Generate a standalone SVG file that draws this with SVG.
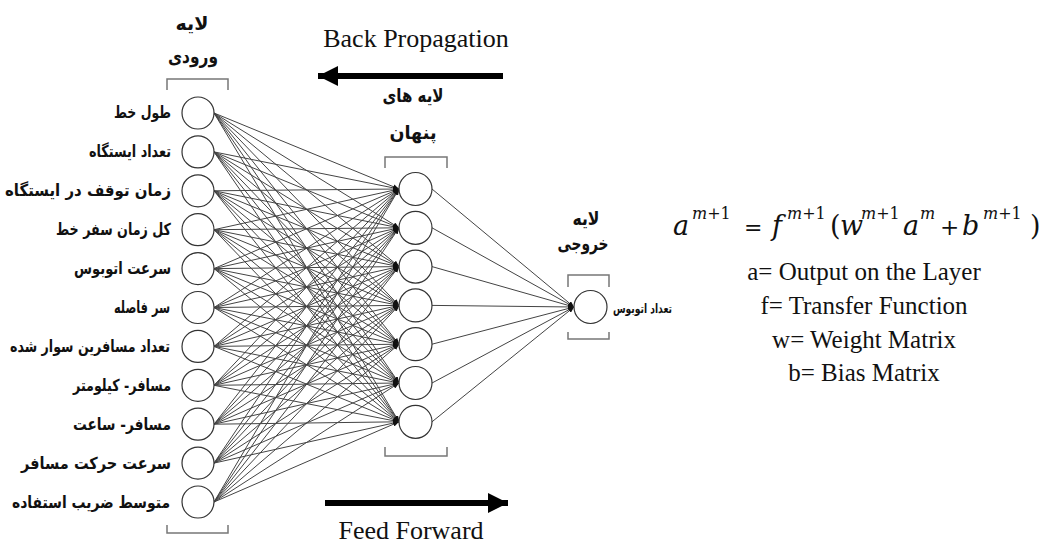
<svg xmlns="http://www.w3.org/2000/svg" width="1054" height="545" viewBox="0 0 1054 545">
<style>
.node circle{fill:#fff;stroke:#333;stroke-width:1.2}
.lbl{font-family:"DejaVu Sans",sans-serif;font-weight:bold;font-size:16.5px;fill:#111;text-anchor:end}
.ttl{font-family:"DejaVu Sans",sans-serif;font-weight:bold;font-size:19px;fill:#111;text-anchor:middle}
.br{fill:none;stroke:#777;stroke-width:1.5}
.conn line{stroke:#444;stroke-width:1;marker-end:url(#ah)}
.en{font-family:"Liberation Serif",serif;font-size:25px;fill:#111;text-anchor:middle}
.eq{font-family:"DejaVu Serif",serif;fill:#111}
.sup{font-size:16px}
</style>
<defs>
<marker id="ah" markerUnits="userSpaceOnUse" markerWidth="7" markerHeight="5" refX="6" refY="2.5" orient="auto">
<path d="M0,0 L6,2.5 L0,5 Z" fill="#111"/>
</marker>
<marker id="big" markerUnits="userSpaceOnUse" markerWidth="22" markerHeight="22" refX="20" refY="10" orient="auto">
<path d="M0,0 L20,10 L0,20 Z" fill="#000"/>
</marker>
</defs>
<rect width="1054" height="545" fill="#fff"/>

<g id="connectors" class="conn">
<line x1="214" y1="113" x2="399" y2="189"/><line x1="214" y1="113" x2="399" y2="227.8"/><line x1="214" y1="113" x2="399" y2="266.6"/><line x1="214" y1="113" x2="399" y2="305.4"/><line x1="214" y1="113" x2="399" y2="344.2"/><line x1="214" y1="113" x2="399" y2="383"/><line x1="214" y1="113" x2="399" y2="421.8"/>
<line x1="214" y1="151.9" x2="399" y2="189"/><line x1="214" y1="151.9" x2="399" y2="227.8"/><line x1="214" y1="151.9" x2="399" y2="266.6"/><line x1="214" y1="151.9" x2="399" y2="305.4"/><line x1="214" y1="151.9" x2="399" y2="344.2"/><line x1="214" y1="151.9" x2="399" y2="383"/><line x1="214" y1="151.9" x2="399" y2="421.8"/>
<line x1="214" y1="190.8" x2="399" y2="189"/><line x1="214" y1="190.8" x2="399" y2="227.8"/><line x1="214" y1="190.8" x2="399" y2="266.6"/><line x1="214" y1="190.8" x2="399" y2="305.4"/><line x1="214" y1="190.8" x2="399" y2="344.2"/><line x1="214" y1="190.8" x2="399" y2="383"/><line x1="214" y1="190.8" x2="399" y2="421.8"/>
<line x1="214" y1="229.7" x2="399" y2="189"/><line x1="214" y1="229.7" x2="399" y2="227.8"/><line x1="214" y1="229.7" x2="399" y2="266.6"/><line x1="214" y1="229.7" x2="399" y2="305.4"/><line x1="214" y1="229.7" x2="399" y2="344.2"/><line x1="214" y1="229.7" x2="399" y2="383"/><line x1="214" y1="229.7" x2="399" y2="421.8"/>
<line x1="214" y1="268.6" x2="399" y2="189"/><line x1="214" y1="268.6" x2="399" y2="227.8"/><line x1="214" y1="268.6" x2="399" y2="266.6"/><line x1="214" y1="268.6" x2="399" y2="305.4"/><line x1="214" y1="268.6" x2="399" y2="344.2"/><line x1="214" y1="268.6" x2="399" y2="383"/><line x1="214" y1="268.6" x2="399" y2="421.8"/>
<line x1="214" y1="307.5" x2="399" y2="189"/><line x1="214" y1="307.5" x2="399" y2="227.8"/><line x1="214" y1="307.5" x2="399" y2="266.6"/><line x1="214" y1="307.5" x2="399" y2="305.4"/><line x1="214" y1="307.5" x2="399" y2="344.2"/><line x1="214" y1="307.5" x2="399" y2="383"/><line x1="214" y1="307.5" x2="399" y2="421.8"/>
<line x1="214" y1="346.4" x2="399" y2="189"/><line x1="214" y1="346.4" x2="399" y2="227.8"/><line x1="214" y1="346.4" x2="399" y2="266.6"/><line x1="214" y1="346.4" x2="399" y2="305.4"/><line x1="214" y1="346.4" x2="399" y2="344.2"/><line x1="214" y1="346.4" x2="399" y2="383"/><line x1="214" y1="346.4" x2="399" y2="421.8"/>
<line x1="214" y1="385.3" x2="399" y2="189"/><line x1="214" y1="385.3" x2="399" y2="227.8"/><line x1="214" y1="385.3" x2="399" y2="266.6"/><line x1="214" y1="385.3" x2="399" y2="305.4"/><line x1="214" y1="385.3" x2="399" y2="344.2"/><line x1="214" y1="385.3" x2="399" y2="383"/><line x1="214" y1="385.3" x2="399" y2="421.8"/>
<line x1="214" y1="424.2" x2="399" y2="189"/><line x1="214" y1="424.2" x2="399" y2="227.8"/><line x1="214" y1="424.2" x2="399" y2="266.6"/><line x1="214" y1="424.2" x2="399" y2="305.4"/><line x1="214" y1="424.2" x2="399" y2="344.2"/><line x1="214" y1="424.2" x2="399" y2="383"/><line x1="214" y1="424.2" x2="399" y2="421.8"/>
<line x1="214" y1="463.1" x2="399" y2="189"/><line x1="214" y1="463.1" x2="399" y2="227.8"/><line x1="214" y1="463.1" x2="399" y2="266.6"/><line x1="214" y1="463.1" x2="399" y2="305.4"/><line x1="214" y1="463.1" x2="399" y2="344.2"/><line x1="214" y1="463.1" x2="399" y2="383"/><line x1="214" y1="463.1" x2="399" y2="421.8"/>
<line x1="214" y1="502" x2="399" y2="189"/><line x1="214" y1="502" x2="399" y2="227.8"/><line x1="214" y1="502" x2="399" y2="266.6"/><line x1="214" y1="502" x2="399" y2="305.4"/><line x1="214" y1="502" x2="399" y2="344.2"/><line x1="214" y1="502" x2="399" y2="383"/><line x1="214" y1="502" x2="399" y2="421.8"/>
<line x1="432" y1="189" x2="574" y2="307"/><line x1="432" y1="227.8" x2="574" y2="307"/><line x1="432" y1="266.6" x2="574" y2="307"/><line x1="432" y1="305.4" x2="574" y2="307"/><line x1="432" y1="344.2" x2="574" y2="307"/><line x1="432" y1="383" x2="574" y2="307"/><line x1="432" y1="421.8" x2="574" y2="307"/>
</g>

<g id="input-layer">
<text class="ttl" x="192" y="30" textLength="33" lengthAdjust="spacingAndGlyphs">لایه</text>
<text class="ttl" x="193" y="63" textLength="50" lengthAdjust="spacingAndGlyphs">ورودی</text>
<path class="br" d="M167,90 V79 H228 V90"/>
<path class="br" d="M167,525 V533 H228 V525"/>
</g>
<g id="in1" class="node"><circle cx="198" cy="113" r="16"/><text class="lbl" x="171" y="118" textLength="57" lengthAdjust="spacingAndGlyphs">طول خط</text></g>
<g id="in2" class="node"><circle cx="198" cy="151.9" r="16"/><text class="lbl" x="171" y="157" textLength="82" lengthAdjust="spacingAndGlyphs">تعداد ایستگاه</text></g>
<g id="in3" class="node"><circle cx="198" cy="190.8" r="16"/><text class="lbl" x="171" y="196" textLength="166" lengthAdjust="spacingAndGlyphs">زمان توقف در ایستگاه</text></g>
<g id="in4" class="node"><circle cx="198" cy="229.7" r="16"/><text class="lbl" x="171" y="235" textLength="115" lengthAdjust="spacingAndGlyphs">کل زمان سفر خط</text></g>
<g id="in5" class="node"><circle cx="198" cy="268.6" r="16"/><text class="lbl" x="171" y="274" textLength="97" lengthAdjust="spacingAndGlyphs">سرعت اتوبوس</text></g>
<g id="in6" class="node"><circle cx="198" cy="307.5" r="16"/><text class="lbl" x="170" y="313" textLength="56" lengthAdjust="spacingAndGlyphs">سر فاصله</text></g>
<g id="in7" class="node"><circle cx="198" cy="346.4" r="16"/><text class="lbl" x="170" y="352" textLength="160" lengthAdjust="spacingAndGlyphs">تعداد مسافرین سوار شده</text></g>
<g id="in8" class="node"><circle cx="198" cy="385.3" r="16"/><text class="lbl" x="171" y="391" textLength="98" lengthAdjust="spacingAndGlyphs">مسافر- کیلومتر</text></g>
<g id="in9" class="node"><circle cx="198" cy="424.2" r="16"/><text class="lbl" x="171" y="430" textLength="98" lengthAdjust="spacingAndGlyphs">مسافر-  ساعت</text></g>
<g id="in10" class="node"><circle cx="198" cy="463.1" r="16"/><text class="lbl" x="171" y="469" textLength="150" lengthAdjust="spacingAndGlyphs">سرعت حرکت مسافر</text></g>
<g id="in11" class="node"><circle cx="198" cy="502" r="16"/><text class="lbl" x="170" y="508" textLength="158" lengthAdjust="spacingAndGlyphs">متوسط ضریب استفاده</text></g>

<g id="hidden-layer">
<text class="ttl" x="413" y="102" textLength="61" lengthAdjust="spacingAndGlyphs">لایه های</text>
<text class="ttl" x="413" y="139" textLength="47" lengthAdjust="spacingAndGlyphs">پنهان</text>
<path class="br" d="M385,168 V157 H447 V168"/>
<path class="br" d="M385,447 V456 H447 V447"/>
</g>
<g id="h1" class="node"><circle cx="415.5" cy="189" r="16.5"/></g>
<g id="h2" class="node"><circle cx="415.5" cy="227.8" r="16.5"/></g>
<g id="h3" class="node"><circle cx="415.5" cy="266.6" r="16.5"/></g>
<g id="h4" class="node"><circle cx="415.5" cy="305.4" r="16.5"/></g>
<g id="h5" class="node"><circle cx="415.5" cy="344.2" r="16.5"/></g>
<g id="h6" class="node"><circle cx="415.5" cy="383" r="16.5"/></g>
<g id="h7" class="node"><circle cx="415.5" cy="421.8" r="16.5"/></g>

<g id="output-layer">
<text class="ttl" x="586" y="225" textLength="27" lengthAdjust="spacingAndGlyphs">لایه</text>
<text class="ttl" x="583" y="250" textLength="51" lengthAdjust="spacingAndGlyphs">خروجی</text>
<path class="br" d="M568,287 V275 H609 V287"/>
<path class="br" d="M568,332 V339 H609 V332"/>
</g>
<g id="out" class="node"><circle cx="590.5" cy="307" r="16.5"/><text class="lbl" x="672" y="313" style="font-size:13px" textLength="59" lengthAdjust="spacingAndGlyphs">تعداد اتوبوس</text></g>

<g id="back-propagation">
<text class="en" x="416" y="47" style="font-size:26px">Back Propagation</text>
<line x1="503" y1="76" x2="318" y2="76" stroke="#000" stroke-width="6" marker-end="url(#big)"/>
</g>
<g id="feed-forward">
<line x1="325" y1="503" x2="508" y2="503" stroke="#000" stroke-width="6" marker-end="url(#big)"/>
<text class="en" x="411" y="539" style="font-size:26px">Feed Forward</text>
</g>

<g id="formula">
<text class="eq" y="235" font-size="27"><tspan x="673" font-style="italic">a</tspan><tspan class="sup" x="692" y="219"><tspan font-style="italic">m</tspan>+1</tspan><tspan x="744" y="235" font-size="22">=</tspan><tspan x="772" font-style="italic">f</tspan><tspan class="sup" x="787" y="219"><tspan font-style="italic">m</tspan>+1</tspan><tspan x="830" y="235">(</tspan><tspan x="840" font-style="italic">w</tspan><tspan class="sup" x="861" y="219"><tspan font-style="italic">m</tspan>+1</tspan><tspan x="903" y="235" font-style="italic">a</tspan><tspan class="sup" x="920" y="219" font-style="italic">m</tspan><tspan x="940" y="235" font-size="23">+</tspan><tspan x="962" font-style="italic">b</tspan><tspan class="sup" x="983" y="219"><tspan font-style="italic">m</tspan>+1</tspan><tspan x="1030" y="235">)</tspan></text>
<text class="en" x="864" y="280">a= Output on the Layer</text>
<text class="en" x="864" y="314">f= Transfer Function</text>
<text class="en" x="864" y="348">w= Weight Matrix</text>
<text class="en" x="864" y="381">b= Bias Matrix</text>
</g>
</svg>
